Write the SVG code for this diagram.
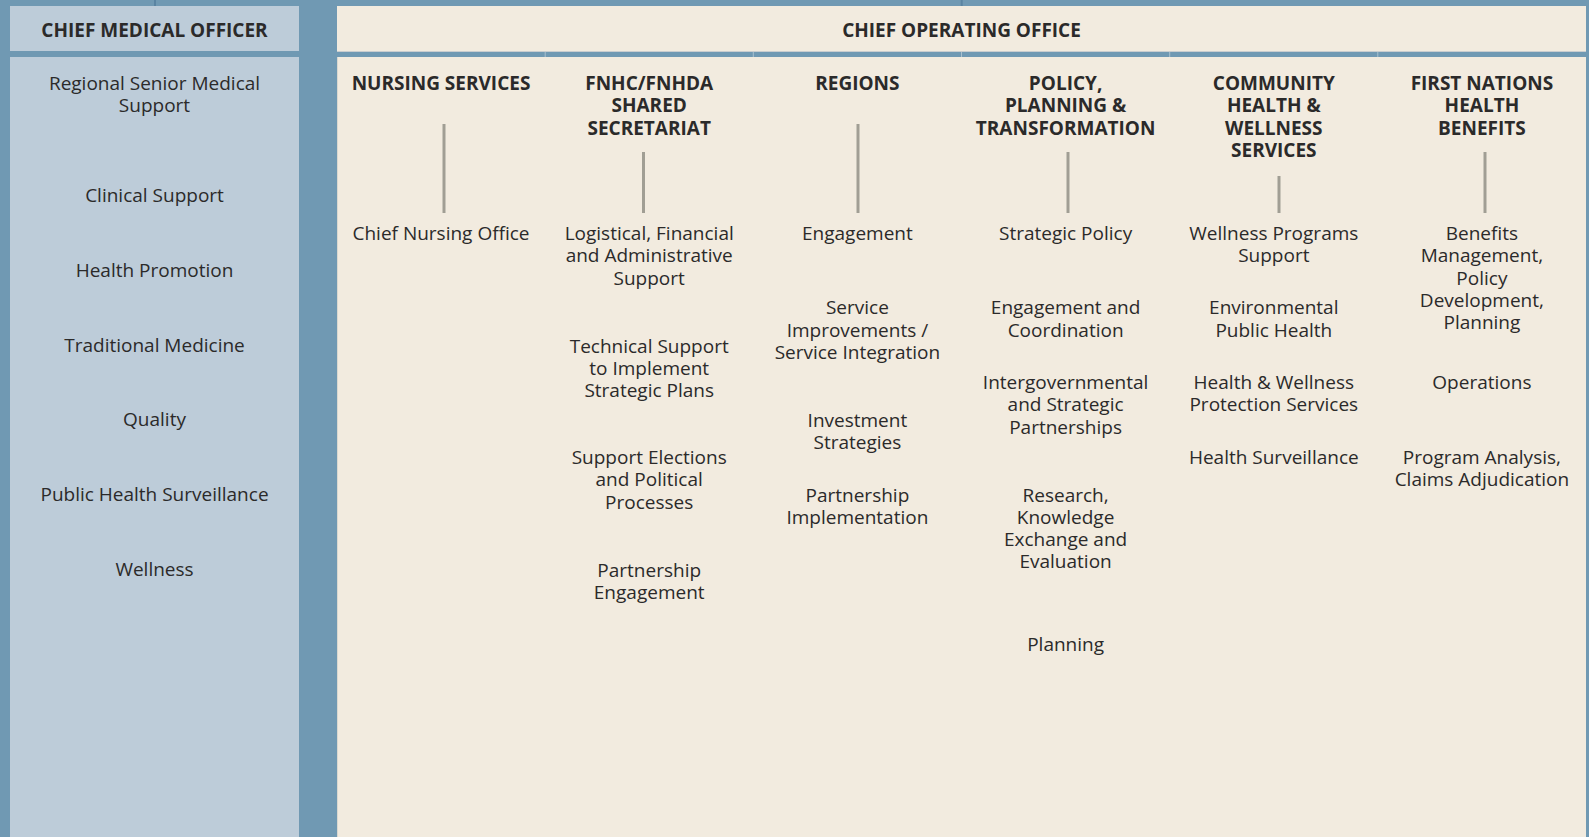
<svg xmlns="http://www.w3.org/2000/svg" width="1589" height="837" viewBox="0 0 1589 837">
  <style>
    .t { font-family: "Open Sans", "Noto Sans", "Liberation Sans", sans-serif; font-size: 19px; fill: #2b2a2a; text-anchor: middle; }
    .h { font-family: "Open Sans", "Noto Sans", "Liberation Sans", sans-serif; font-size: 19px; font-weight: 700; fill: #2b2a2a; text-anchor: middle; }
    .cmo { fill: #bdccd9; }
    .coo { fill: #f2ebdf; }
    .sep { stroke: #a9c0cf; stroke-width: 1; }
    .link { stroke: #a19e94; stroke-width: 3; fill: none; }
    .stub { stroke: #5a84a2; stroke-width: 2; fill: none; }
  </style>

  <!-- backdrop -->
  <rect x="0" y="0" width="1589" height="837" fill="#7099b3"/>

  <!-- Chief Medical Officer column -->
  <g id="cmo">
    <rect class="cmo" x="10" y="6" width="289" height="45"/>
    <rect class="cmo" x="10" y="57" width="289" height="780"/>
    <text class="h" x="154.5" y="37">CHIEF MEDICAL OFFICER</text>
    <text class="t" x="154.5" y="90">Regional Senior Medical<tspan x="154.5" dy="22.4">Support</tspan></text>
    <text class="t" x="154.5" y="201.5">Clinical Support</text>
    <text class="t" x="154.5" y="276.5">Health Promotion</text>
    <text class="t" x="154.5" y="351.5">Traditional Medicine</text>
    <text class="t" x="154.5" y="425.5">Quality</text>
    <text class="t" x="154.5" y="500.5">Public Health Surveillance</text>
    <text class="t" x="154.5" y="575.5">Wellness</text>
  </g>

  <!-- Chief Operating Office panel -->
  <g id="coo">
    <rect class="coo" x="337" y="6" width="1249" height="45"/>
    <rect class="coo" x="337" y="57" width="1249" height="780" fill="#f3ece0"/>
    <line x1="337.5" y1="57" x2="337.5" y2="837" stroke="#d9d8d0" stroke-width="1"/>
    <line x1="337" y1="51.5" x2="1586" y2="51.5" stroke="#c9cdcf" stroke-width="1"/>
    <line class="sep" x1="545.2" y1="52" x2="545.2" y2="57"/>
    <line class="sep" x1="753.3" y1="52" x2="753.3" y2="57"/>
    <line class="sep" x1="961.5" y1="52" x2="961.5" y2="57"/>
    <line class="sep" x1="1169.7" y1="52" x2="1169.7" y2="57"/>
    <line class="sep" x1="1377.8" y1="52" x2="1377.8" y2="57"/>
    <text class="h" x="961.5" y="37">CHIEF OPERATING OFFICE</text>
  </g>

  <!-- Nursing Services -->
  <g id="nursing">
    <text class="h" x="441" y="90">NURSING SERVICES</text>
    <text class="t" x="441" y="240">Chief Nursing Office</text>
  </g>

  <!-- FNHC/FNHDA Shared Secretariat -->
  <g id="secretariat">
    <text class="h" x="649.2" y="90">FNHC/FNHDA<tspan x="649.2" dy="22.35">SHARED</tspan><tspan x="649.2" dy="22.35">SECRETARIAT</tspan></text>
    <text class="t" x="649.2" y="240">Logistical, Financial<tspan x="649.2" dy="22.35">and Administrative</tspan><tspan x="649.2" dy="22.35">Support</tspan></text>
    <text class="t" x="649.2" y="352.6">Technical Support<tspan x="649.2" dy="22.3">to Implement</tspan><tspan x="649.2" dy="22.3">Strategic Plans</tspan></text>
    <text class="t" x="649.2" y="464">Support Elections<tspan x="649.2" dy="22.3">and Political</tspan><tspan x="649.2" dy="22.3">Processes</tspan></text>
    <text class="t" x="649.2" y="576.5">Partnership<tspan x="649.2" dy="22.3">Engagement</tspan></text>
  </g>

  <!-- Regions -->
  <g id="regions">
    <text class="h" x="857.4" y="90">REGIONS</text>
    <text class="t" x="857.4" y="240">Engagement</text>
    <text class="t" x="857.4" y="314.1">Service<tspan x="857.4" dy="23">Improvements /</tspan><tspan x="857.4" dy="22.3">Service Integration</tspan></text>
    <text class="t" x="857.4" y="426.5">Investment<tspan x="857.4" dy="22.3">Strategies</tspan></text>
    <text class="t" x="857.4" y="501.5">Partnership<tspan x="857.4" dy="22.3">Implementation</tspan></text>
  </g>

  <!-- Policy, Planning & Transformation -->
  <g id="policy">
    <text class="h" x="1065.6" y="90">POLICY,<tspan x="1065.6" dy="22.35">PLANNING &amp;</tspan><tspan x="1065.6" dy="22.35">TRANSFORMATION</tspan></text>
    <text class="t" x="1065.6" y="240">Strategic Policy</text>
    <text class="t" x="1065.6" y="314.1">Engagement and<tspan x="1065.6" dy="23">Coordination</tspan></text>
    <text class="t" x="1065.6" y="389.1">Intergovernmental<tspan x="1065.6" dy="22.25">and Strategic</tspan><tspan x="1065.6" dy="22.25">Partnerships</tspan></text>
    <text class="t" x="1065.6" y="501.5">Research,<tspan x="1065.6" dy="22.3">Knowledge</tspan><tspan x="1065.6" dy="22.3">Exchange and</tspan><tspan x="1065.6" dy="22.3">Evaluation</tspan></text>
    <text class="t" x="1065.6" y="650.5">Planning</text>
  </g>

  <!-- Community Health & Wellness Services -->
  <g id="community">
    <text class="h" x="1273.8" y="90">COMMUNITY<tspan x="1273.8" dy="22.35">HEALTH &amp;</tspan><tspan x="1273.8" dy="22.35">WELLNESS</tspan><tspan x="1273.8" dy="22.3">SERVICES</tspan></text>
    <text class="t" x="1273.8" y="240">Wellness Programs<tspan x="1273.8" dy="22.4">Support</tspan></text>
    <text class="t" x="1273.8" y="314.1">Environmental<tspan x="1273.8" dy="23">Public Health</tspan></text>
    <text class="t" x="1273.8" y="389.1">Health &amp; Wellness<tspan x="1273.8" dy="22.2">Protection Services</tspan></text>
    <text class="t" x="1273.8" y="464">Health Surveillance</text>
  </g>

  <!-- First Nations Health Benefits -->
  <g id="benefits">
    <text class="h" x="1481.9" y="90">FIRST NATIONS<tspan x="1481.9" dy="22.35">HEALTH</tspan><tspan x="1481.9" dy="22.35">BENEFITS</tspan></text>
    <text class="t" x="1481.9" y="240">Benefits<tspan x="1481.9" dy="22.35">Management,</tspan><tspan x="1481.9" dy="22.3">Policy</tspan><tspan x="1481.9" dy="22.3">Development,</tspan><tspan x="1481.9" dy="22.3">Planning</tspan></text>
    <text class="t" x="1481.9" y="389.1">Operations</text>
    <text class="t" x="1481.9" y="464">Program Analysis,<tspan x="1481.9" dy="22.3">Claims Adjudication</tspan></text>
  </g>

  <!-- connectors -->
  <g id="connectors">
    <line class="stub" x1="155" y1="0" x2="155" y2="6"/>
    <line class="stub" x1="961.7" y1="0" x2="961.7" y2="6"/>
    <line class="link" x1="444" y1="124" x2="444" y2="213"/>
    <line class="link" x1="643.5" y1="152" x2="643.5" y2="213"/>
    <line class="link" x1="858" y1="124" x2="858" y2="213"/>
    <line class="link" x1="1068" y1="152" x2="1068" y2="213"/>
    <line class="link" x1="1279" y1="176" x2="1279" y2="213"/>
    <line class="link" x1="1485" y1="152" x2="1485" y2="213"/>
  </g>
</svg>
